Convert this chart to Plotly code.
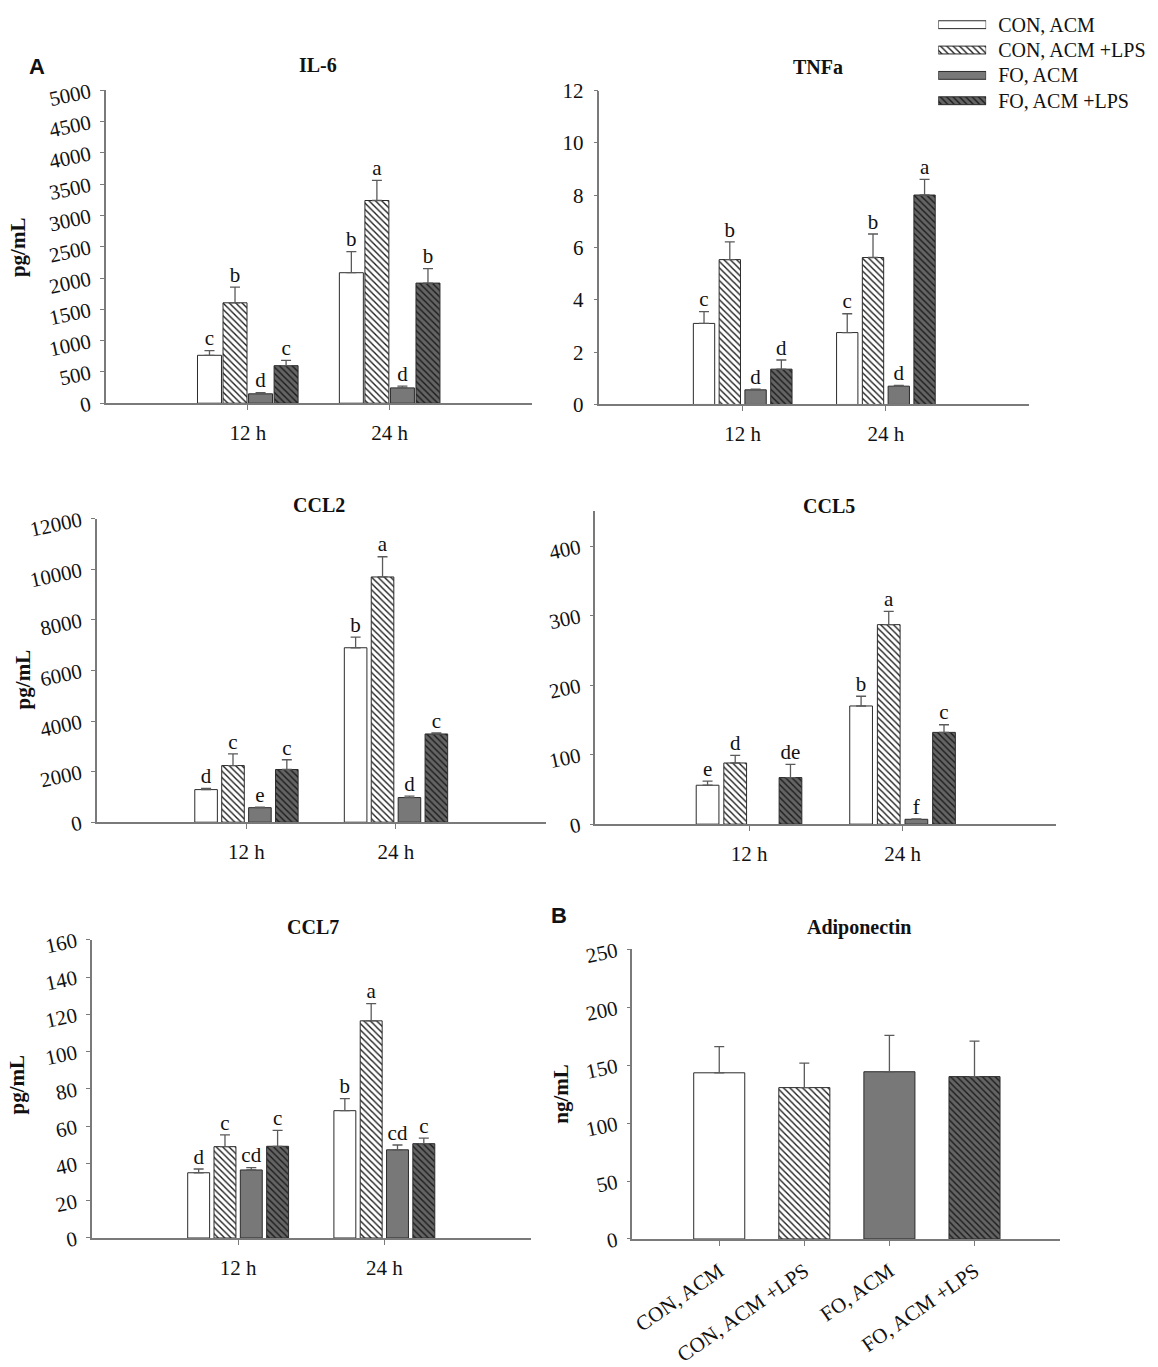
import plotly.graph_objects as go

W, H = 1158, 1367

times = ["12 h", "24 h"]
groups = ["CON, ACM", "CON, ACM +LPS", "FO, ACM", "FO, ACM +LPS"]

# IL-6 (pg/mL), one list per treatment: [12 h, 24 h]
il6_con = [766, 2086]
il6_con_lps = [1605, 3240]
il6_fo = [150, 245]
il6_fo_lps = [600, 1920]
il6_err = [[73, 336], [250, 321], [18, 27], [85, 230]]
il6_sig = [["c", "b"], ["b", "a"], ["d", "d"], ["c", "b"]]

# TNFa (pg/mL)
tnf_con = [3.10, 2.75]
tnf_con_lps = [5.54, 5.62]
tnf_fo = [0.56, 0.70]
tnf_fo_lps = [1.35, 8.01]
tnf_err = [[0.45, 0.72], [0.68, 0.90], [0.03, 0.03], [0.35, 0.60]]
tnf_sig = [["c", "c"], ["b", "b"], ["d", "d"], ["d", "a"]]

# CCL2 (pg/mL)
ccl2_con = [1290, 6900]
ccl2_con_lps = [2240, 9700]
ccl2_fo = [575, 975]
ccl2_fo_lps = [2085, 3490]
ccl2_err = [[50, 420], [460, 800], [25, 60], [385, 40]]
ccl2_sig = [["d", "b"], ["c", "a"], ["e", "d"], ["c", "c"]]

# CCL5 (pg/mL) - no FO, ACM bar at 12 h
ccl5_con = [56, 170]
ccl5_con_lps = [88, 287]
ccl5_fo = [None, 7]
ccl5_fo_lps = [67, 132]
ccl5_err = [[6, 14], [11, 19], [0, 0.5], [19, 11]]
ccl5_sig = [["e", "b"], ["d", "a"], ["", "f"], ["de", "c"]]

# CCL7 (pg/mL)
ccl7_con = [35, 68.3]
ccl7_con_lps = [49, 116.5]
ccl7_fo = [36.5, 47.3]
ccl7_fo_lps = [49.2, 50.6]
ccl7_err = [[2, 6.5], [6.3, 9.2], [1.2, 2.6], [8.5, 3]]
ccl7_sig = [["d", "b"], ["c", "a"], ["cd", "cd"], ["c", "c"]]

# Adiponectin (ng/mL)
adipo_mean = [143.5, 130.7, 144.4, 140.2]
adipo_err = [22.6, 21.2, 31.5, 30.6]

FILL = ["#ffffff", "#ffffff", "#787878", "#646464"]
HATCH = ["", "\\", "", "\\"]
SERIF = "Liberation Serif, Times New Roman, serif"
AXIS_GREY = "#7a7a7a"
INK = "#111111"
TICK_SIZE = 21


def xdom(a, b):
    return [a / W, b / W]


def ydom(top, bottom):
    return [1 - bottom / H, 1 - top / H]


def marker(i):
    return dict(color=FILL[i], line=dict(color="#2b2b2b", width=1),
                pattern=dict(shape=HATCH[i], fgcolor="#1a1a1a", bgcolor=FILL[i],
                             size=4.5, solidity=0.3, fillmode="replace"))


def label(text, x, y, size=20, family=SERIF, angle=0):
    return dict(text=text, x=x / W, y=1 - y / H, xref="paper", yref="paper",
                xanchor="center", yanchor="middle", showarrow=False, textangle=angle,
                font=dict(size=size, family=family, color=INK))


panels = [
    dict(title="IL-6", means=[il6_con, il6_con_lps, il6_fo, il6_fo_lps], err=il6_err, sig=il6_sig,
         xd=(105, 531), yd=(80.7, 402.7), yr=5000, dt=500, ang=-12, bw=0.169,
         tpos=(317, 55), ylab="pg/mL", lpos=(17, 242)),
    dict(title="TNFa", means=[tnf_con, tnf_con_lps, tnf_fo, tnf_fo_lps], err=tnf_err, sig=tnf_sig,
         xd=(599, 1029), yd=(81, 404), yr=12, dt=2, ang=0, bw=0.149,
         tpos=(818, 57), ylab=None, lpos=None),
    dict(title="CCL2", means=[ccl2_con, ccl2_con_lps, ccl2_fo, ccl2_fo_lps], err=ccl2_err, sig=ccl2_sig,
         xd=(96, 545), yd=(521.7, 834), yr=12000, dt=2000, ang=-12, bw=0.151,
         tpos=(318, 507), ylab="pg/mL", lpos=(22, 687)),
    dict(title="CCL5", means=[ccl5_con, ccl5_con_lps, ccl5_fo, ccl5_fo_lps], err=ccl5_err, sig=ccl5_sig,
         xd=(595, 1056), yd=(514, 836), yr=450, dt=100, ang=-12, bw=0.148,
         tpos=(829, 508), ylab=None, lpos=None),
    dict(title="CCL7", means=[ccl7_con, ccl7_con_lps, ccl7_fo, ccl7_fo_lps], err=ccl7_err, sig=ccl7_sig,
         xd=(91, 530), yd=(955, 1262), yr=160, dt=20, ang=-12, bw=0.150,
         tpos=(312, 942), ylab="pg/mL", lpos=(16, 1104)),
]

fig = go.Figure()
annotations = []
layout_axes = {}


def axis_style(k, p, xrange, xangle=0):
    sfx = "" if k == 1 else str(k)
    layout_axes["xaxis" + sfx] = dict(
        domain=xdom(*p["xd"]), range=xrange, anchor="y" + sfx,
        showline=True, linecolor=AXIS_GREY, linewidth=1.5, showgrid=False, zeroline=False,
        ticks="outside", ticklen=5, tickcolor=AXIS_GREY, tickangle=xangle,
        tickfont=dict(size=TICK_SIZE, family=SERIF, color=INK), ticklabelstandoff=5)
    layout_axes["yaxis" + sfx] = dict(
        domain=ydom(*p["yd"]), range=[0, p["yr"]], dtick=p["dt"], tickformat="d", anchor="x" + sfx,
        showline=True, linecolor=AXIS_GREY, linewidth=1.5, showgrid=False, zeroline=False,
        ticks="outside", ticklen=4, tickcolor=AXIS_GREY, tickangle=p["ang"],
        tickfont=dict(size=TICK_SIZE, family=SERIF, color=INK), ticklabelstandoff=6)
    annotations.append(label("<b>%s</b>" % p["title"], *p["tpos"]))
    if p["ylab"]:
        annotations.append(label("<b>%s</b>" % p["ylab"], *p["lpos"], size=21, angle=-90))


err_style = dict(type="data", symmetric=False, color="#5a5a5a", thickness=1.3, width=5)

for k, p in enumerate(panels, start=1):
    sfx = "" if k == 1 else str(k)
    for i, name in enumerate(groups):
        fig.add_trace(go.Bar(
            x=times, y=p["means"][i], name=name, width=p["bw"], marker=marker(i), showlegend=False,
            error_y=dict(err_style, array=p["err"][i], arrayminus=[0, 0]),
            xaxis="x" + sfx, yaxis="y" + sfx))
    # significance letters sit on top of each error bar
    for i, name in enumerate(groups):
        tops = [m + e if m is not None else None for m, e in zip(p["means"][i], p["err"][i])]
        fig.add_trace(go.Scatter(
            x=times, y=tops, text=p["sig"][i], mode="text", textposition="top center",
            textfont=dict(size=TICK_SIZE, family=SERIF, color=INK), showlegend=False,
            hoverinfo="skip", cliponaxis=False, xaxis="x" + sfx, yaxis="y" + sfx))
    axis_style(k, p, [-1, 2])

# Adiponectin panel (B): one trace per treatment, sharing one slot per category
adipo = dict(title="Adiponectin", xd=(632, 1059.5), yd=(965, 1263), yr=250, dt=50, ang=-12,
             tpos=(859, 942), ylab="ng/mL", lpos=(561, 1114))
for i, name in enumerate(groups):
    fig.add_trace(go.Bar(
        x=[name], y=[adipo_mean[i]], width=0.6, offsetgroup="adipo", marker=marker(i), showlegend=False,
        error_y=dict(err_style, array=[adipo_err[i]], arrayminus=[0]),
        xaxis="x6", yaxis="y6"))
axis_style(6, adipo, [-1.02, 4], xangle=-35)

# legend drawn as a small bar panel so the swatches carry the same patterns
for i, name in enumerate(groups):
    fig.add_trace(go.Bar(
        y=[name], x=[1], orientation="h", width=0.31, offsetgroup="legend", marker=marker(i),
        showlegend=False, hoverinfo="skip", xaxis="x7", yaxis="y7"))
layout_axes["xaxis7"] = dict(domain=xdom(938, 986), range=[0, 1], visible=False, anchor="y7")
layout_axes["yaxis7"] = dict(domain=ydom(0, 104.4), range=[3.5, -0.5], side="right", anchor="x7",
                             showline=False, showgrid=False, zeroline=False, ticks="",
                             tickfont=dict(size=20, family=SERIF, color=INK), ticklabelstandoff=11)

# panel letters
annotations.append(label("<b>A</b>", 36, 56, size=22, family="Liberation Sans, Arial"))
annotations.append(label("<b>B</b>", 558, 930, size=22, family="Liberation Sans, Arial"))

fig.update_layout(
    width=W, height=H, margin=dict(l=0, r=0, t=0, b=0),
    paper_bgcolor="white", plot_bgcolor="white",
    font=dict(family=SERIF, size=20, color=INK),
    barmode="group", bargap=0.28, bargroupgap=0,
    scattermode="group", scattergap=0.28,
    annotations=annotations, showlegend=False,
    **layout_axes,
)

fig.write_html("out.html", config={"displayModeBar": False},
               post_script="document.body.style.margin='0';document.body.style.overflow='hidden';")
